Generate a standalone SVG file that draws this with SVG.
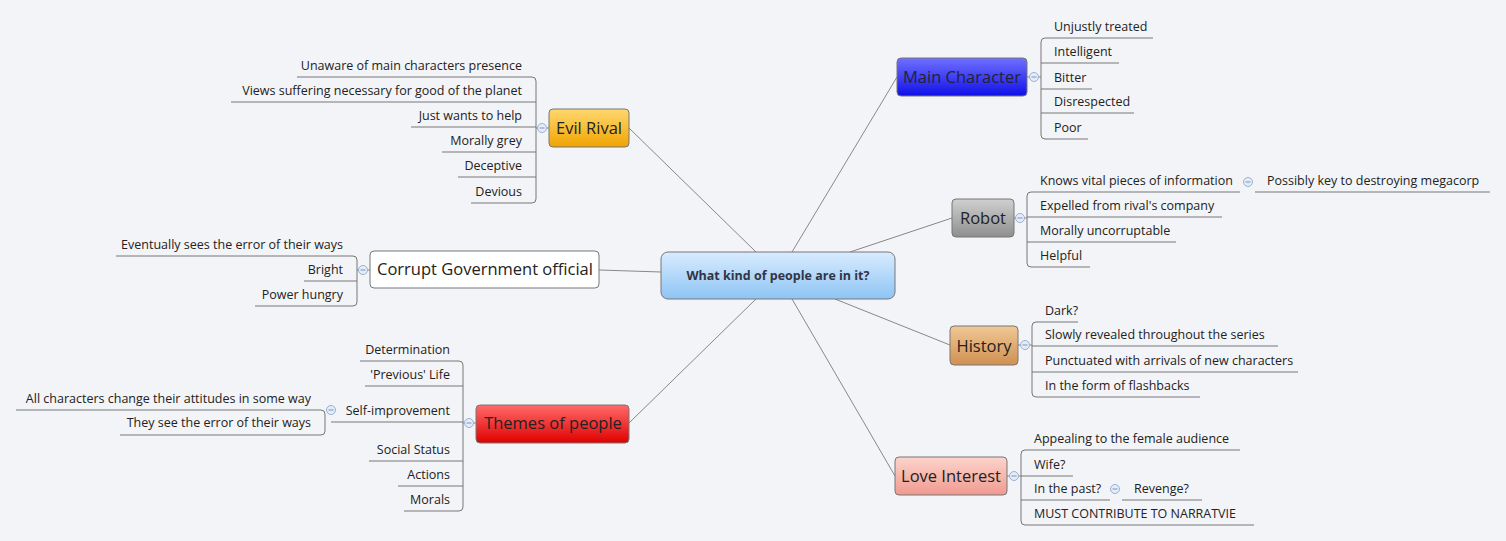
<svg xmlns="http://www.w3.org/2000/svg" width="1506" height="541" viewBox="0 0 1506 541">
<style>
text{font-family:"Open Sans","Liberation Sans",sans-serif;fill:#222}
.l{font-size:12.5px}
.e{text-anchor:end}
.b{font-size:16.5px;text-anchor:middle}
.ln{stroke:#777;stroke-width:1;fill:none}
.cn{stroke:#888;stroke-width:1;fill:none}
.box{stroke:#777;stroke-width:1}
.cc{fill:#e4ecf8;stroke:#9ab0d0;stroke-width:1}
.mn{stroke:#7a94c0;stroke-width:1}
</style>
<defs>
<linearGradient id="gc" x1="0" y1="0" x2="0" y2="1"><stop offset="0" stop-color="#d8ecff"/><stop offset="1" stop-color="#8ec4f4"/></linearGradient>
<linearGradient id="gm" x1="0" y1="0" x2="0" y2="1"><stop offset="0" stop-color="#7070ff"/><stop offset="1" stop-color="#1010e8"/></linearGradient>
<linearGradient id="gr" x1="0" y1="0" x2="0" y2="1"><stop offset="0" stop-color="#d0d0d0"/><stop offset="1" stop-color="#8e8e8e"/></linearGradient>
<linearGradient id="gh" x1="0" y1="0" x2="0" y2="1"><stop offset="0" stop-color="#f0c896"/><stop offset="1" stop-color="#d09050"/></linearGradient>
<linearGradient id="gl" x1="0" y1="0" x2="0" y2="1"><stop offset="0" stop-color="#fcd4cc"/><stop offset="1" stop-color="#f09a90"/></linearGradient>
<linearGradient id="ge" x1="0" y1="0" x2="0" y2="1"><stop offset="0" stop-color="#ffd870"/><stop offset="1" stop-color="#f0a400"/></linearGradient>
<linearGradient id="gt" x1="0" y1="0" x2="0" y2="1"><stop offset="0" stop-color="#ff6a6a"/><stop offset="1" stop-color="#e00000"/></linearGradient>
<g id="col"><circle class="cc" r="4.5"/><line class="mn" x1="-2.5" y1="0" x2="2.5" y2="0"/></g>
</defs>
<rect width="1506" height="541" fill="#f3f4f7"/>
<g id="connectors" class="cn">
<line x1="792" y1="252" x2="897" y2="77"/>
<line x1="850" y1="252" x2="952" y2="218"/>
<line x1="835" y1="299" x2="950" y2="345"/>
<line x1="792" y1="299" x2="895" y2="476"/>
<line x1="756" y1="252" x2="629" y2="128"/>
<line x1="661" y1="272" x2="599" y2="270"/>
<line x1="756" y1="299" x2="629" y2="423"/>
<line x1="1027" y1="77" x2="1041" y2="77"/>
<line x1="1014" y1="218" x2="1027" y2="218"/>
<line x1="1018" y1="345" x2="1032" y2="345"/>
<line x1="1007" y1="476" x2="1021" y2="476"/>
<line x1="549" y1="128" x2="536" y2="128"/>
<line x1="370" y1="270" x2="357" y2="270"/>
<line x1="476" y1="423" x2="463" y2="423"/>
</g>
<g id="center"><rect x="661" y="252" width="234" height="47" rx="7" fill="url(#gc)" class="box"/><text x="778" y="280" style="font-size:12.5px;font-weight:bold;text-anchor:middle;fill:#334">What kind of people are in it?</text></g>

<g id="main-character">
<rect x="897" y="58" width="130" height="38" rx="4" fill="url(#gm)" class="box"/><text class="b" x="962" y="83" style="fill:#223">Main Character</text>
<use href="#col" x="1034" y="77"/>
<path class="ln" d="M1153,38H1045Q1041,38 1041,42V135Q1041,139 1045,139H1088M1041,63H1119M1041,89H1092M1041,113H1134"/>
<text class="l" x="1054" y="31">Unjustly treated</text><text class="l" x="1054" y="56">Intelligent</text><text class="l" x="1054" y="82">Bitter</text><text class="l" x="1054" y="106">Disrespected</text><text class="l" x="1054" y="132">Poor</text>
</g>

<g id="robot">
<rect x="952" y="199" width="62" height="38" rx="4" fill="url(#gr)" class="box"/><text class="b" x="983" y="224">Robot</text>
<use href="#col" x="1020" y="218"/>
<path class="ln" d="M1240,192H1031Q1027,192 1027,196V263Q1027,267 1031,267H1090M1027,217H1222M1027,242H1176M1255,192H1490"/>
<use href="#col" x="1248" y="182"/>
<text class="l" x="1040" y="185">Knows vital pieces of information</text><text class="l" x="1267" y="185">Possibly key to destroying megacorp</text>
<text class="l" x="1040" y="210">Expelled from rival's company</text><text class="l" x="1040" y="235">Morally uncorruptable</text><text class="l" x="1040" y="260">Helpful</text>
</g>

<g id="history">
<rect x="950" y="326" width="68" height="39" rx="4" fill="url(#gh)" class="box"/><text class="b" x="984" y="352">History</text>
<use href="#col" x="1025" y="345"/>
<path class="ln" d="M1078,322H1036Q1032,322 1032,326V393Q1032,397 1036,397H1200M1032,346H1278M1032,372H1298"/>
<text class="l" x="1045" y="315">Dark?</text><text class="l" x="1045" y="339">Slowly revealed throughout the series</text><text class="l" x="1045" y="365">Punctuated with arrivals of new characters</text><text class="l" x="1045" y="390">In the form of flashbacks</text>
</g>

<g id="love-interest">
<rect x="895" y="457" width="112" height="38" rx="4" fill="url(#gl)" class="box"/><text class="b" x="951" y="482">Love Interest</text>
<use href="#col" x="1014" y="476"/>
<path class="ln" d="M1240,450H1025Q1021,450 1021,454V521Q1021,525 1025,525H1254M1021,476H1073M1021,500H1110M1122,500H1202"/>
<use href="#col" x="1115" y="489"/>
<text class="l" x="1034" y="443">Appealing to the female audience</text><text class="l" x="1034" y="469">Wife?</text><text class="l" x="1034" y="493">In the past?</text><text class="l" x="1134" y="493">Revenge?</text><text class="l" x="1034" y="518">MUST CONTRIBUTE TO NARRATVIE</text>
</g>

<g id="evil-rival">
<rect x="549" y="109" width="80" height="38" rx="4" fill="url(#ge)" class="box"/><text class="b" x="589" y="134">Evil Rival</text>
<use href="#col" x="542" y="128"/>
<path class="ln" d="M297,77H532Q536,77 536,81V199Q536,203 532,203H471M231,102H536M411,127H536M442,152H536M458,177H536"/>
<text class="l e" x="522" y="70">Unaware of main characters presence</text><text class="l e" x="522" y="95">Views suffering necessary for good of the planet</text><text class="l e" x="522" y="120">Just wants to help</text><text class="l e" x="522" y="145">Morally grey</text><text class="l e" x="522" y="170">Deceptive</text><text class="l e" x="522" y="196">Devious</text>
</g>

<g id="corrupt-official">
<rect x="370" y="251" width="229" height="37" rx="4" fill="#fff" class="box"/><text class="b" x="485" y="275">Corrupt Government official</text>
<use href="#col" x="363" y="270"/>
<path class="ln" d="M116,256H353Q357,256 357,260V302Q357,306 353,306H255M304,281H357"/>
<text class="l e" x="343" y="249">Eventually sees the error of their ways</text><text class="l e" x="343" y="274">Bright</text><text class="l e" x="343" y="299">Power hungry</text>
</g>

<g id="themes">
<rect x="476" y="405" width="153" height="38" rx="4" fill="url(#gt)" class="box"/><text class="b" x="553" y="429">Themes of people</text>
<use href="#col" x="469" y="423"/>
<path class="ln" d="M360,361H459Q463,361 463,365V507Q463,511 459,511H404M365,386H463M338,422H463M369,461H463M398,486H463"/>
<use href="#col" x="331" y="410"/>
<path class="ln" d="M338,422H331M16,410H321Q325,410 325,414V431Q325,435 321,435H120"/>
<text class="l e" x="450" y="354">Determination</text><text class="l e" x="450" y="379">'Previous' Life</text><text class="l e" x="450" y="415">Self-improvement</text><text class="l e" x="311" y="403">All characters change their attitudes in some way</text><text class="l e" x="311" y="427">They see the error of their ways</text><text class="l e" x="450" y="454">Social Status</text><text class="l e" x="450" y="479">Actions</text><text class="l e" x="450" y="504">Morals</text>
</g>
</svg>
